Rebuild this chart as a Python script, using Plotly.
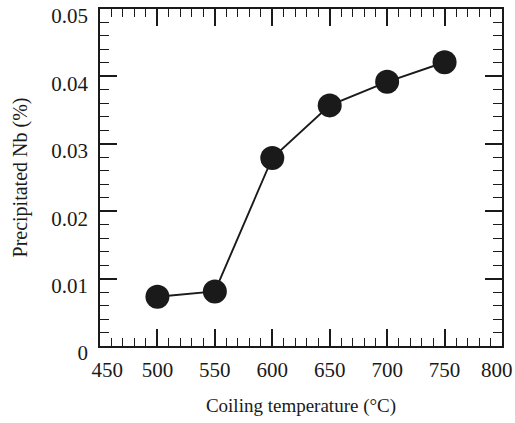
import plotly.graph_objects as go

temps = [500, 550, 600, 650, 700, 750]
nb_pct = [0.0073, 0.0081, 0.0279, 0.0357, 0.0392, 0.0421]

x_ticks = [450, 500, 550, 600, 650, 700, 750, 800]
x_ticktext = ["\u2002\u2009450", "500", "550", "600", "650", "700", "750", "800\u2002"]
y_ticks = [0, 0.01, 0.02, 0.03, 0.04, 0.05]
y_ticktext = ["0", "0.01", "0.02", "0.03", "0.04", "0.05"]

FONT = "Liberation Serif"
INK = "#1a1a1a"

fig = go.Figure()
fig.add_trace(go.Scatter(
    x=temps, y=nb_pct, mode="lines+markers",
    line=dict(color=INK, width=1.9),
    marker=dict(size=24, color=INK),
    showlegend=False,
))

axis_common = dict(
    showline=True, linecolor=INK, linewidth=1.6, mirror="allticks",
    ticks="inside", tickcolor=INK, tickwidth=1.5, ticklen=17,
    showgrid=False, zeroline=False, automargin=False,
    ticklabeloverflow="allow",
    tickfont=dict(family=FONT, size=21, color=INK),
)

fig.update_xaxes(
    range=[450, 800.0001], tickmode="array", tickvals=x_ticks, ticktext=x_ticktext,
    minor=dict(ticks="inside", tickmode="linear", dtick=10, tick0=450, ticklen=8,
               tickcolor=INK, tickwidth=1.2, showgrid=False),
    title=dict(text="Coiling temperature (°C)", font=dict(family=FONT, size=19, color=INK), standoff=18),
    ticklabelstandoff=4,
    **axis_common,
)
fig.update_yaxes(
    range=[0, 0.0500001], tickmode="array", tickvals=y_ticks, ticktext=y_ticktext,
    minor=dict(ticks="inside", tickmode="linear", dtick=0.002, tick0=0, ticklen=9,
               tickcolor=INK, tickwidth=1.2, showgrid=False),
    title=dict(text="Precipitated Nb (%)", font=dict(family=FONT, size=20, color=INK), standoff=18),
    ticklabelstandoff=6,
    ticklabelshift=7,
    **axis_common,
)

fig.update_layout(
    width=515, height=423,
    margin=dict(l=100, r=13, t=9, b=77),
    paper_bgcolor="white", plot_bgcolor="white",
    font=dict(family=FONT, color=INK),
    hovermode=False,
)

fig.write_html("out.html", config={"displayModeBar": False},
               post_script="document.body.style.margin='0px';")
